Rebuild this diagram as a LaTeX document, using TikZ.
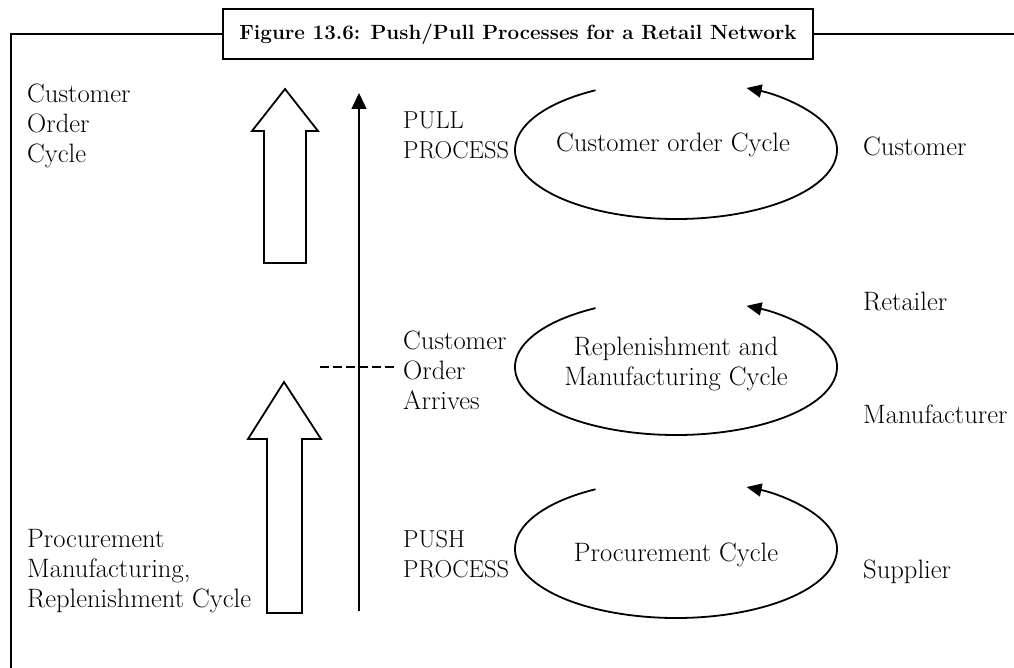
\documentclass[tikz,border=0pt]{standalone}
\usepackage{fontspec}
\usepackage{tikz}
\usetikzlibrary{arrows.meta}

\begin{document}
\begin{tikzpicture}[x=1pt,y=-1pt,
  lbl/.style={font=\fontsize{26.6}{30}\selectfont,inner sep=0pt,align=left,anchor=base west},
  proc/.style={lbl,font=\fontsize{24.5}{30}\selectfont},
  cyc/.style={line width=1.8pt,-{Triangle[length=15pt,width=13pt]}},
  fatarrow/.style={line width=1.8pt,fill=white,line join=miter},
  frame/.style={line width=1.8pt}]
  \useasboundingbox (0,0) rectangle (1014,668);
  % title and frame
  \node[draw,line width=2.2pt,minimum width=590pt,minimum height=50pt,
    font=\fontsize{20.6}{24}\selectfont\bfseries] (ttl) at (518,34)
    {Figure 13.6: Push/Pull Processes for a Retail Network};
  \draw[frame] (ttl.west) -- (11,34) -- (11,668);
  \draw[frame] (ttl.east) -- (1014,34);
  % left labels
  \node[lbl] (coc) at (27,163) {Customer\\Order\\Cycle};
  \node[lbl] (pmr) at (27,607) {Procurement\\Manufacturing,\\Replenishment Cycle};
  % hollow arrows
  \draw[fatarrow] (264,263) -- (264,131) -- (252,131) -- (285,89) -- (318,131)
    -- (306,131) -- (306,263) -- cycle;
  \draw[fatarrow] (267,613) -- (267,439) -- (248,439) -- (284,382) -- (321,439)
    -- (302,439) -- (302,613) -- cycle;
  % process axis
  \coordinate (axb) at (359,611);
  \coordinate (axt) at (359,93);
  \draw[line width=1.5pt,-{Triangle[length=16pt,width=15pt]}] (axb) -- (axt);
  \coordinate (da) at (320,367);
  \coordinate (db) at (396,367);
  \draw[line width=1.5pt,dash pattern=on 9pt off 4pt] (da) -- (db);
  \node[proc] (pull) at (403,159) {PULL\\PROCESS};
  \node[lbl] (coa) at (403,409) {Customer\\Order\\Arrives};
  \node[proc] (push) at (403,577) {PUSH\\PROCESS};
  % cycles
  \coordinate (e1) at (676,150);
  \coordinate (e2) at (676,367);
  \coordinate (e3) at (676,549);
  \draw[cyc] (e1) ++(120:161pt and 69pt) arc[start angle=120,end angle=424,x radius=161pt,y radius=69pt];
  \draw[cyc] (e2) ++(120:161pt and 68pt) arc[start angle=120,end angle=424,x radius=161pt,y radius=68pt];
  \draw[cyc] (e3) ++(120:161pt and 69pt) arc[start angle=120,end angle=424,x radius=161pt,y radius=69pt];
  \node[lbl,align=center,anchor=base] (cu) at (673,152) {Customer order Cycle};
  \node[lbl,align=center,anchor=base] (rm) at (676,385) {Replenishment and\\Manufacturing Cycle};
  \node[lbl,align=center,anchor=base] (pc) at (676,561) {Procurement Cycle};
  % tiers
  \node[lbl] (cst) at (863,156) {Customer};
  \node[lbl] (ret) at (863,310) {Retailer};
  \node[lbl] (mfr) at (863,423) {Manufacturer};
  \node[lbl] (sup) at (863,578) {Supplier};
\end{tikzpicture}
\end{document}
